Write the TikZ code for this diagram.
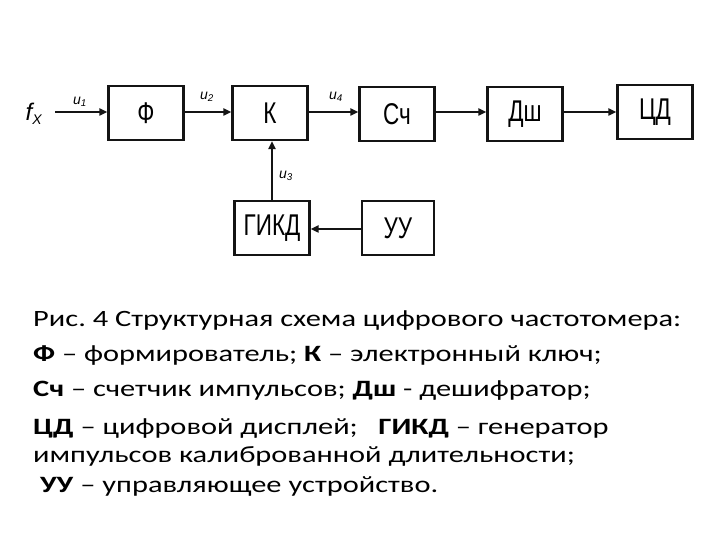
\documentclass[tikz,border=0pt]{standalone}
\usepackage{fontspec}
\setmainfont[FakeStretch=1.3]{Carlito}
\newfontfamily\boxfont[FakeStretch=0.75]{Liberation Sans}
\newfontfamily\labfont{Liberation Sans}
\usetikzlibrary{arrows.meta, positioning}
\definecolor{mydark}{RGB}{20,20,20}
\tikzset{
  unit/.style={rectangle, draw=mydark, fill=white, minimum width=75pt,
    minimum height=54pt, inner sep=0pt, line width=2.3pt,
    font=\boxfont\fontsize{30}{32}\selectfont},
  arrow/.style={-{Triangle[length=8pt,width=7pt]}, line width=2pt, color=mydark},
  sig/.style={font=\labfont\itshape\fontsize{14}{15}\selectfont, inner sep=0pt},
  capline/.style={anchor=base west, inner sep=0pt,
    font=\fontsize{23.4}{26}\selectfont}
}
\frenchspacing

\begin{document}
\begin{tikzpicture}[x=1pt, y=1pt]
  \useasboundingbox[fill=white] (0,0) rectangle (720,540);

  % blocks of the meter
  \node[unit] (ph) at (146,427) {Ф};
  \node[unit] (k)  at (270,427) {К};
  \node[unit] (sc) at (397,426) {Сч};
  \node[unit] (ds) at (525,426) {Дш};
  \node[unit] (cd) at (655,428) {ЦД};
  \node[unit] (gk) at (272,312) {ГИКД};
  \node[unit, minimum width=72pt] (uu) at (398,312) {УУ};

  % input
  \node[font=\labfont\itshape\fontsize{24}{26}\selectfont, inner sep=0pt] (fx) at (34,426) {f\textsubscript{\fontsize{14}{15}\selectfont X}};
  \coordinate (in) at (55,428);

  \draw[arrow] (in) -- (in -| ph.west);
  \draw[arrow] (ph.east |- 0,428) -- (k.west |- 0,428);
  \draw[arrow] (k.east |- 0,428) -- (sc.west |- 0,428);
  \draw[arrow] (sc.east |- 0,428) -- (ds.west |- 0,428);
  \draw[arrow] (ds.east |- 0,428) -- (cd.west |- 0,428);
  \draw[arrow] (gk.north) -- (gk.north |- k.south);
  \draw[arrow] (uu.west |- 0,311) -- (gk.east |- 0,311);

  % signal labels
  \node[sig] (u1) at (80,438) {u\textsubscript{1}};
  \node[sig] (u2) at (207,443) {u\textsubscript{2}};
  \node[sig] (u4) at (336,443) {u\textsubscript{4}};
  \node[sig] (u3) at (286,364) {u\textsubscript{3}};

  % caption
  \node[capline] (c1) at (33,213) {Рис. 4 Структурная схема цифрового частотомера:};
  \node[capline] (c2) at (33,178) {\textbf{Ф} – формирователь; \textbf{К} – электронный ключ;};
  \node[capline] (c3) at (33,143) {\textbf{Сч} – счетчик импульсов; \textbf{Дш} - дешифратор;};
  \node[capline] (c4) at (33,105) {\textbf{ЦД} – цифровой дисплей;\ \ \ \textbf{ГИКД} – генератор};
  \node[capline] (c5) at (33,77) {импульсов калиброванной длительности;};
  \node[capline] (c6) at (33,47) {\ \textbf{УУ} – управляющее устройство.};
\end{tikzpicture}
\end{document}
